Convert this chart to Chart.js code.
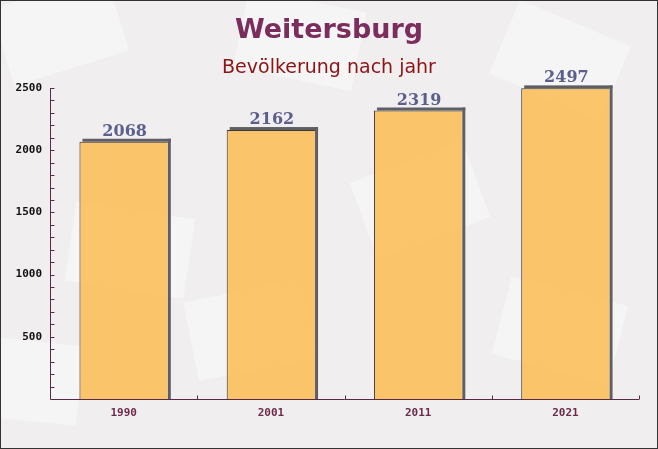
<!DOCTYPE html>
<html>
<head>
<meta charset="utf-8">
<script src="https://cdn.jsdelivr.net/npm/chart.js@4.4.0/dist/chart.umd.min.js"></script>
<style>
  html, body { margin: 0; padding: 0; background: #fff; }
  #wrap { width: 658px; height: 449px; position: relative; }
</style>
</head>
<body>
<div id="wrap"><canvas id="myChart" width="658" height="449"></canvas></div>
<script>
var years = ["1990", "2001", "2011", "2021"];
var population = [2068, 2162, 2319, 2497];
var yTicks = [500, 1000, 1500, 2000, 2500];

// background, frame and titles
var decoPlugin = {
    id: 'deco',
    beforeDraw: function(chart) {
        var c = chart.ctx;
        c.save();
        c.fillStyle = '#f1eef0';
        c.fillRect(0, 0, chart.width, chart.height);
        // faint envelope shapes
        c.fillStyle = 'rgba(255,255,255,0.4)';
        var env = [[60, 30, -0.3], [300, 40, 0.2], [560, 60, 0.4], [130, 250, 0.15], [420, 200, -0.35], [560, 330, 0.25], [250, 330, -0.2], [20, 380, 0.1]];
        env.forEach(function(e) {
            c.save();
            c.translate(e[0], e[1]);
            c.rotate(e[2]);
            c.fillRect(-60, -40, 120, 80);
            c.restore();
        });
        c.restore();
    },
    afterDraw: function(chart) {
        var c = chart.ctx;
        c.save();
        c.textAlign = 'center';
        c.textBaseline = 'middle';
        c.fillStyle = '#7b2d5d';
        c.font = 'bold 27px "DejaVu Sans"';
        c.fillText('Weitersburg', 329, 31);
        c.fillStyle = '#8b1414';
        c.font = '19px "DejaVu Sans"';
        c.fillText('Bevölkerung nach jahr', 329, 68);
        c.strokeStyle = '#333';
        c.lineWidth = 1;
        c.strokeRect(0.5, 0.5, chart.width - 1, chart.height - 1);
        c.restore();
    }
};

// 3d shadow behind the bars
var shadowPlugin = {
    id: 'shadow',
    beforeDatasetsDraw: function(chart) {
        var c = chart.ctx;
        var meta = chart.getDatasetMeta(0);
        c.save();
        c.fillStyle = '#5e5e64';
        meta.data.forEach(function(bar) {
            var x0 = bar.x - bar.width / 2, x1 = bar.x + bar.width / 2;
            var off = 3;
            c.fillRect(x0 + off, bar.y - off, bar.width, off);
            c.fillRect(x1, bar.y - off, off, bar.base - bar.y + off);
        });
        c.restore();
    },
    afterDatasetsDraw: function(chart) {
        var c = chart.ctx;
        var meta = chart.getDatasetMeta(0);
        var y = chart.scales.y, x = chart.scales.x;
        c.save();
        // value labels
        c.fillStyle = '#5b5f8c';
        c.font = 'bold 16px "DejaVu Serif"';
        c.textAlign = 'center';
        c.textBaseline = 'alphabetic';
        meta.data.forEach(function(bar, i) {
            c.fillText(String(population[i]), bar.x + 1, bar.y - 6);
        });
        // axis lines and ticks
        c.strokeStyle = '#5a2a45';
        c.lineWidth = 1;
        c.beginPath();
        var ax = Math.round(x.left) + 0.5;
        var ab = Math.round(y.bottom) + 0.5;
        c.moveTo(ax, y.top);
        c.lineTo(ax, ab);
        c.lineTo(x.right, ab);
        for (var v = 100; v <= y.max; v += 100) {
            var py = Math.round(y.getPixelForValue(v)) + 0.5;
            c.moveTo(ax, py);
            c.lineTo(ax + 4, py);
        }
        for (var i = 0; i < years.length; i++) {
            var px = Math.round(x.getPixelForValue(i) + (x.getPixelForValue(1) - x.getPixelForValue(0)) / 2) + 0.5;
            c.moveTo(px, ab);
            c.lineTo(px, ab - 4);
        }
        c.stroke();
        c.restore();
    }
};

var ctx = document.getElementById("myChart");
var myChart = new Chart(ctx, {
    type: 'bar',
    data: {
        labels: years,
        datasets: [{
            data: population,
            backgroundColor: 'rgba(252,186,72,0.8)',
            borderColor: '#3a3a3a',
            borderWidth: { left: 1, top: 1, right: 0, bottom: 0 },
            barPercentage: 0.6,
            categoryPercentage: 1
        }]
    },
    options: {
        responsive: false,
        animation: false,
        layout: { padding: { top: 88, right: 19, left: 0, bottom: 0 } },
        plugins: { legend: { display: false }, tooltip: { enabled: false } },
        scales: {
            x: {
                grid: { display: false, drawTicks: false },
                border: { display: false },
                ticks: {
                    color: '#6b2b4b',
                    font: { family: '"DejaVu Sans Mono"', weight: 'bold', size: 11 },
                    padding: 8
                },
                afterFit: function(s) { s.height = 50; }
            },
            y: {
                min: 0,
                max: 2500,
                grid: { display: false, drawTicks: false },
                border: { display: false },
                afterBuildTicks: function(s) {
                    s.ticks = yTicks.map(function(v) { return { value: v }; });
                },
                ticks: {
                    color: '#111',
                    font: { family: '"DejaVu Sans Mono"', weight: 'bold', size: 11 },
                    padding: 8,
                    callback: function(v) { return String(v); }
                },
                afterFit: function(s) { s.width = 50; }
            }
        }
    },
    plugins: [decoPlugin, shadowPlugin]
});
</script>
</body>
</html>
